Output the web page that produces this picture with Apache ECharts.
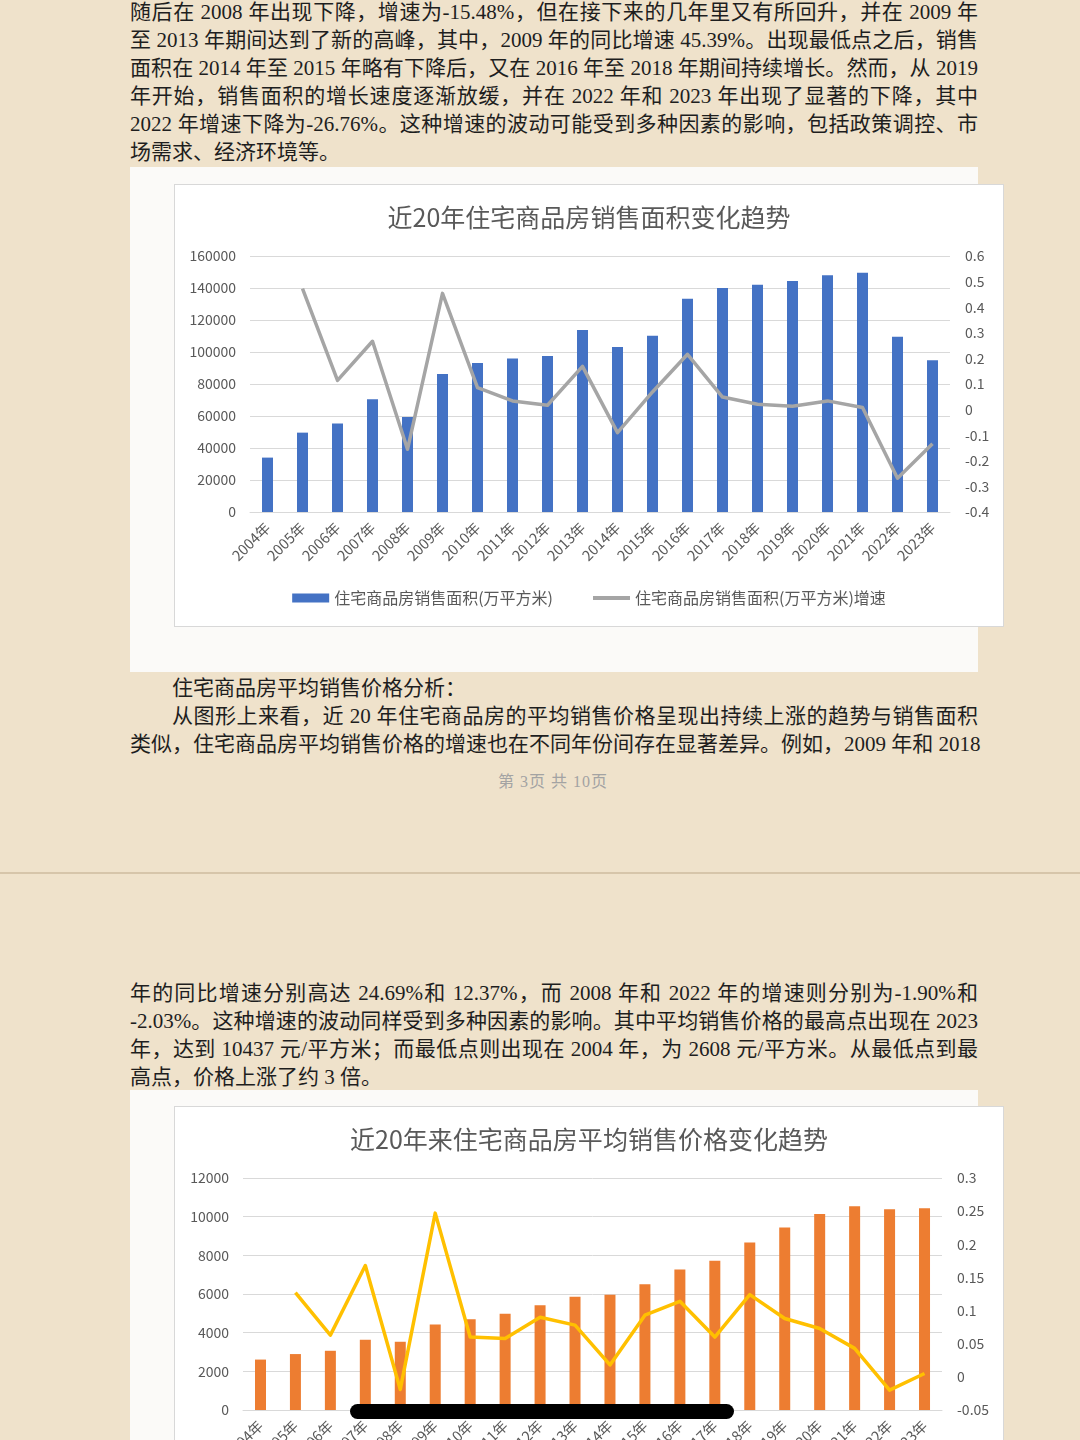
<!DOCTYPE html>
<html><head><meta charset="utf-8">
<script src="https://cdn.jsdelivr.net/npm/echarts@6/dist/echarts.min.js"></script>
<style>
html,body{margin:0;padding:0;}
body{width:1080px;height:1440px;overflow:hidden;position:relative;background:#efe2cb;}
.ln{position:absolute;left:130px;width:848px;height:28px;line-height:28px;font-family:'Liberation Serif','Noto Sans CJK SC',serif;font-size:21px;color:#1e1e1e;white-space:nowrap;}
.j{text-align:justify;text-align-last:justify;}
.ind{left:172px;width:806px;}
.panel{position:absolute;left:130px;width:848px;background:#fbfaf8;}
.chart{position:absolute;left:175px;width:828px;height:441px;background:#fff;box-shadow:0 0 0 1px #d8d8d8;}
#pg{position:absolute;left:0;width:1080px;top:769px;height:26px;line-height:26px;text-align:center;font-family:'Liberation Serif','Noto Sans CJK SC',serif;font-size:16px;letter-spacing:1px;color:#a3a3a3;padding-left:26px;box-sizing:border-box;}
#div{position:absolute;left:0;top:872px;width:1080px;height:2px;background:#d6c5aa;}
#home{position:absolute;left:350px;top:1404px;width:384px;height:15px;border-radius:8px;background:#000;}
</style></head>
<body>
<div class="ln j" style="top:-2px">随后在 2008 年出现下降，增速为-15.48%，但在接下来的几年里又有所回升，并在 2009 年</div>
<div class="ln j" style="top:26px">至 2013 年期间达到了新的高峰，其中，2009 年的同比增速 45.39%。出现最低点之后，销售</div>
<div class="ln j" style="top:54px">面积在 2014 年至 2015 年略有下降后，又在 2016 年至 2018 年期间持续增长。然而，从 2019</div>
<div class="ln j" style="top:82px">年开始，销售面积的增长速度逐渐放缓，并在 2022 年和 2023 年出现了显著的下降，其中</div>
<div class="ln j" style="top:110px">2022 年增速下降为-26.76%。这种增速的波动可能受到多种因素的影响，包括政策调控、市</div>
<div class="ln" style="top:138px">场需求、经济环境等。</div>

<div class="panel" style="top:167px;height:505px"></div>
<div class="chart" id="c1" style="top:185px"></div>

<div class="ln ind" style="top:674px">住宅商品房平均销售价格分析：</div>
<div class="ln ind j" style="top:702px">从图形上来看，近 20 年住宅商品房的平均销售价格呈现出持续上涨的趋势与销售面积</div>
<div class="ln j" style="top:730px">类似，住宅商品房平均销售价格的增速也在不同年份间存在显著差异。例如，2009 年和 2018</div>
<div id="pg">第 3页 共 10页</div>
<div id="div"></div>

<div class="ln j" style="top:979px">年的同比增速分别高达 24.69%和 12.37%，而 2008 年和 2022 年的增速则分别为-1.90%和</div>
<div class="ln j" style="top:1007px">-2.03%。这种增速的波动同样受到多种因素的影响。其中平均销售价格的最高点出现在 2023</div>
<div class="ln j" style="top:1035px">年，达到 10437 元/平方米；而最低点则出现在 2004 年，为 2608 元/平方米。从最低点到最</div>
<div class="ln" style="top:1063px">高点，价格上涨了约 3 倍。</div>

<div class="panel" style="top:1090px;height:360px"></div>
<div class="chart" id="c2" style="top:1107px"></div>
<div id="home"></div>

<script>
const years = ['2004年','2005年','2006年','2007年','2008年','2009年','2010年','2011年','2012年','2013年','2014年','2015年','2016年','2017年','2018年','2019年','2020年','2021年','2022年','2023年'];
const areaValues = [34000, 49600, 55300, 70400, 59400, 86200, 93100, 95900, 97500, 113800, 103100, 110200, 133300, 140000, 142100, 144400, 147900, 149600, 109600, 94800];
const areaGrowth = [null, 0.473, 0.114, 0.267, -0.155, 0.454, 0.086, 0.034, 0.017, 0.169, -0.090, 0.069, 0.216, 0.049, 0.021, 0.013, 0.034, 0.008, -0.268, -0.133];
const priceValues = [2608, 2893, 3063, 3633, 3530, 4425, 4700, 4975, 5424, 5853, 5957, 6509, 7268, 7714, 8661, 9436, 10140, 10537, 10383, 10437];
const priceGrowth = [null, 0.127, 0.063, 0.168, -0.019, 0.247, 0.060, 0.058, 0.090, 0.078, 0.018, 0.093, 0.114, 0.060, 0.124, 0.088, 0.073, 0.043, -0.020, 0.005];
const areaTitle = '近20年住宅商品房销售面积变化趋势';
const priceTitle = '近20年来住宅商品房平均销售价格变化趋势';
const areaNames = ['住宅商品房销售面积(万平方米)', '住宅商品房销售面积(万平方米)增速'];
const priceNames = ['住宅商品房平均销售价格(元/平方米)', '住宅商品房平均销售价格(元/平方米)增速'];

const FONT = "'Noto Sans CJK SC','Noto Sans',sans-serif";
const TXT = '#595959';
const GRID = '#d9d9d9';
const LINE_ICON = 'path://M0,0L0.01,0L0,0.01Z M0,2.5H37V6.5H0Z M36.99,9L37,9L37,8.99Z';

function makeOption(o) {
  return {
    animation: false,
    textStyle: { fontFamily: FONT },
    title: {
      text: o.title, left: 'center', top: 15,
      textStyle: { fontFamily: FONT, fontSize: 25, fontWeight: 'normal', color: TXT }
    },
    legend: {
      top: 400, left: 'center', itemWidth: 37, itemHeight: 9, itemGap: 40,
      textStyle: { fontFamily: FONT, fontSize: 16, color: TXT },
      data: [
        { name: o.names[0], icon: 'rect' },
        { name: o.names[1], icon: LINE_ICON, itemStyle: { color: o.lineColor } }
      ]
    },
    grid: Object.assign({ outerBoundsMode: 'none', containLabel: false }, o.grid),
    xAxis: {
      type: 'category', data: years, boundaryGap: true,
      axisLine: { show: true, lineStyle: { color: GRID, width: 1 } },
      axisTick: { show: false },
      axisLabel: { interval: 0, rotate: 45, margin: 13, fontSize: 14.5, color: TXT, fontFamily: FONT }
    },
    yAxis: [
      {
        type: 'value', min: o.left[0], max: o.left[1], interval: o.left[2],
        axisLine: { show: false }, axisTick: { show: false },
        splitLine: { lineStyle: { color: GRID, width: 1 } },
        axisLabel: { fontSize: 14, color: TXT, margin: 14, fontFamily: FONT,
          formatter: v => String(v) }
      },
      {
        type: 'value', min: o.right[0], max: o.right[1], interval: o.right[2],
        axisLine: { show: false }, axisTick: { show: false },
        splitLine: { show: false },
        axisLabel: { fontSize: 14, color: TXT, margin: 15, fontFamily: FONT,
          formatter: v => String(Math.round(v * 100) / 100) }
      }
    ],
    series: [
      { name: o.names[0], type: 'bar', data: o.bars, barWidth: 11, yAxisIndex: 0,
        itemStyle: { color: o.barColor } },
      { name: o.names[1], type: 'line', data: o.line, yAxisIndex: 1, symbol: 'none',
        connectNulls: false,
        lineStyle: { color: o.lineColor, width: 3.5, join: 'round' },
        itemStyle: { color: o.lineColor } }
    ]
  };
}

const c1 = echarts.init(document.getElementById('c1'), null, { renderer: 'canvas' });
c1.setOption(makeOption({
  title: areaTitle, names: areaNames,
  grid: { left: 75, top: 71, width: 700, height: 256 },
  left: [0, 160000, 20000], right: [-0.4, 0.6, 0.1],
  bars: areaValues, line: areaGrowth, barColor: '#4472c4', lineColor: '#a5a5a5'
}));

const c2 = echarts.init(document.getElementById('c2'), null, { renderer: 'canvas' });
c2.setOption(makeOption({
  title: priceTitle, names: priceNames,
  grid: { left: 68, top: 71, width: 699, height: 232 },
  left: [0, 12000, 2000], right: [-0.05, 0.3, 0.05],
  bars: priceValues, line: priceGrowth, barColor: '#ed7d31', lineColor: '#ffc000'
}));
</script>
</body></html>
